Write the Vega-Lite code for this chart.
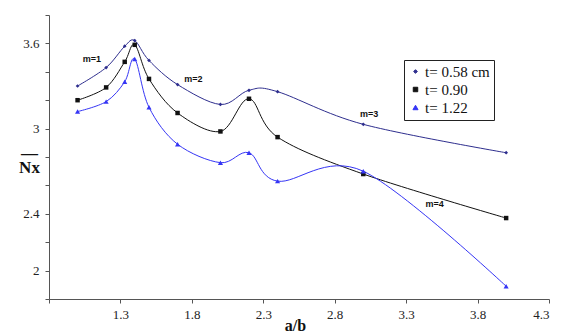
{
  "$schema": "https://vega.github.io/schema/vega-lite/v6.json",
  "autosize": {"type": "none"},
  "padding": {"left": 49, "top": 15, "right": 14, "bottom": 35},
  "width": 500,
  "height": 284,
  "background": "white",
  "config": {
    "view": {"stroke": null},
    "axis": {
      "grid": false,
      "domainColor": "#555555",
      "tickColor": "#555555",
      "tickSize": 4
    }
  },
  "datasets": {
    "curves": [
      {"x": 1.0, "y": 3.30, "series": "t= 0.58 cm"},
      {"x": 1.2, "y": 3.43, "series": "t= 0.58 cm"},
      {"x": 1.33, "y": 3.58, "series": "t= 0.58 cm"},
      {"x": 1.4, "y": 3.62, "series": "t= 0.58 cm"},
      {"x": 1.5, "y": 3.48, "series": "t= 0.58 cm"},
      {"x": 1.7, "y": 3.31, "series": "t= 0.58 cm"},
      {"x": 2.0, "y": 3.17, "series": "t= 0.58 cm"},
      {"x": 2.2, "y": 3.27, "series": "t= 0.58 cm"},
      {"x": 2.4, "y": 3.26, "series": "t= 0.58 cm"},
      {"x": 3.0, "y": 3.03, "series": "t= 0.58 cm"},
      {"x": 4.0, "y": 2.83, "series": "t= 0.58 cm"},
      {"x": 1.0, "y": 3.20, "series": "t= 0.90"},
      {"x": 1.2, "y": 3.29, "series": "t= 0.90"},
      {"x": 1.33, "y": 3.47, "series": "t= 0.90"},
      {"x": 1.4, "y": 3.59, "series": "t= 0.90"},
      {"x": 1.5, "y": 3.35, "series": "t= 0.90"},
      {"x": 1.7, "y": 3.11, "series": "t= 0.90"},
      {"x": 2.0, "y": 2.98, "series": "t= 0.90"},
      {"x": 2.2, "y": 3.21, "series": "t= 0.90"},
      {"x": 2.4, "y": 2.94, "series": "t= 0.90"},
      {"x": 3.0, "y": 2.68, "series": "t= 0.90"},
      {"x": 4.0, "y": 2.37, "series": "t= 0.90"},
      {"x": 1.0, "y": 3.12, "series": "t= 1.22"},
      {"x": 1.2, "y": 3.19, "series": "t= 1.22"},
      {"x": 1.33, "y": 3.33, "series": "t= 1.22"},
      {"x": 1.4, "y": 3.49, "series": "t= 1.22"},
      {"x": 1.5, "y": 3.15, "series": "t= 1.22"},
      {"x": 1.7, "y": 2.89, "series": "t= 1.22"},
      {"x": 2.0, "y": 2.76, "series": "t= 1.22"},
      {"x": 2.2, "y": 2.83, "series": "t= 1.22"},
      {"x": 2.4, "y": 2.63, "series": "t= 1.22"},
      {"x": 3.0, "y": 2.70, "series": "t= 1.22"},
      {"x": 4.0, "y": 1.89, "series": "t= 1.22"}
    ],
    "modes": [
      {"x": 1.10, "y": 3.49, "label": "m=1"},
      {"x": 1.81, "y": 3.35, "label": "m=2"},
      {"x": 3.04, "y": 3.10, "label": "m=3"},
      {"x": 3.50, "y": 2.47, "label": "m=4"}
    ]
  },
  "encoding": {
    "x": {
      "field": "x",
      "type": "quantitative",
      "scale": {"domain": [0.8, 4.3], "nice": false, "zero": false},
      "axis": {
        "values": [0.8, 1.3, 1.8, 2.3, 2.8, 3.3, 3.8, 4.3],
        "labelExpr": "datum.value == 0.8 ? '' : format(datum.value, '.1f')",
        "labelFont": "Liberation Serif",
        "labelFontSize": 13,
        "labelColor": "#222222",
        "labelPadding": 5,
        "labelBound": false,
        "labelOverlap": false,
        "title": "a/b",
        "titleFont": "Liberation Serif",
        "titleFontSize": 16,
        "titleFontWeight": "bold",
        "titleColor": "#111111",
        "titleX": 246,
        "titleY": 31,
        "titleAlign": "center",
        "titleBaseline": "alphabetic"
      }
    },
    "y": {
      "field": "y",
      "type": "quantitative",
      "scale": {"domain": [1.8, 3.8], "nice": false, "zero": false},
      "axis": {
        "values": [1.8, 2, 2.2, 2.4, 2.6, 2.8, 3, 3.2, 3.4, 3.6, 3.8],
        "format": "~g",
        "labelExpr": "indexof([2, 2.4, 3, 3.6], datum.value) >= 0 ? datum.label : ''",
        "labelFont": "Liberation Serif",
        "labelFontSize": 13,
        "labelColor": "#222222",
        "labelPadding": 6,
        "labelOverlap": false,
        "title": ["—", "Nx"],
        "titleFont": "Liberation Serif",
        "titleFontSize": 17,
        "titleFontWeight": "bold",
        "titleColor": "#111111",
        "titleLineHeight": 14,
        "titleAngle": 0,
        "titleAlign": "center",
        "titleBaseline": "alphabetic",
        "titleX": -20,
        "titleY": 143
      }
    }
  },
  "layer": [
    {
      "data": {"name": "curves"},
      "mark": {"type": "line", "interpolate": "cardinal", "strokeWidth": 1},
      "encoding": {
        "color": {
          "field": "series",
          "type": "nominal",
          "scale": {
            "domain": ["t= 0.58 cm", "t= 0.90", "t= 1.22"],
            "range": ["#2E2E8E", "#111111", "#3535F5"]
          },
          "legend": {
            "title": null,
            "orient": "none",
            "legendX": 355,
            "legendY": 45,
            "padding": 4,
            "strokeColor": "#222222",
            "labelFont": "Liberation Serif",
            "labelFontSize": 15,
            "labelColor": "#111111",
            "labelOffset": 2,
            "rowPadding": 2,
            "symbolSize": 225,
            "encode": {
              "symbols": {
                "update": {
                  "shape": {"signal": "datum.value == 't= 0.58 cm' ? 'M-1,0H1M0,-0.28L0.2,0L0,0.28L-0.2,0Z' : datum.value == 't= 0.90' ? 'M-1,0H1M-0.3,-0.3H0.3V0.3H-0.3Z' : 'M-1,0H1M0,-0.3L0.3,0.25H-0.3Z'"},
                  "fill": {"scale": "color", "field": "value"},
                  "stroke": {"scale": "color", "field": "value"},
                  "strokeWidth": {"value": 1},
                  "opacity": {"value": 1}
                }
              }
            }
          }
        }
      }
    },
    {
      "data": {"name": "curves"},
      "mark": {"type": "point", "filled": true, "opacity": 1},
      "encoding": {
        "color": {"field": "series", "type": "nominal", "legend": null},
        "shape": {
          "field": "series",
          "type": "nominal",
          "scale": {
            "domain": ["t= 0.58 cm", "t= 0.90", "t= 1.22"],
            "range": ["diamond", "square", "triangle-up"]
          },
          "legend": null
        },
        "size": {
          "field": "series",
          "type": "nominal",
          "scale": {
            "domain": ["t= 0.58 cm", "t= 0.90", "t= 1.22"],
            "range": [14, 26, 22]
          },
          "legend": null
        }
      }
    },
    {
      "data": {"name": "modes"},
      "mark": {
        "type": "text",
        "font": "Liberation Sans",
        "fontSize": 9,
        "fontWeight": "bold",
        "color": "#111111",
        "align": "center",
        "baseline": "middle"
      },
      "encoding": {
        "text": {"field": "label"}
      }
    }
  ]
}
